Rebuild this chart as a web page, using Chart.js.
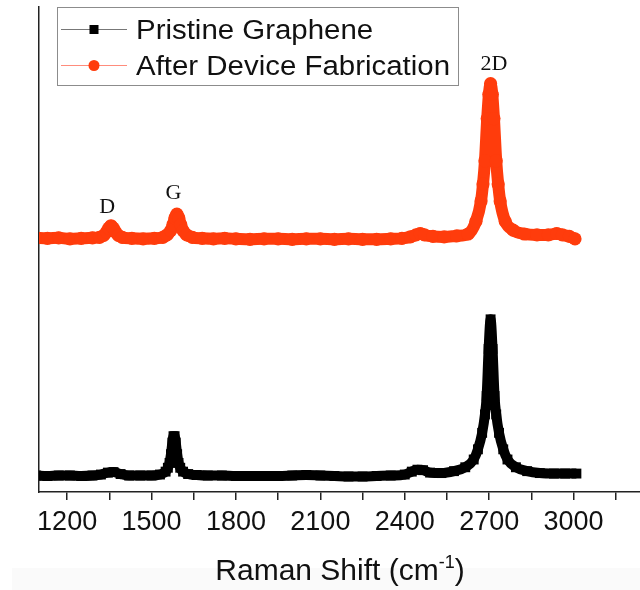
<!DOCTYPE html>
<html>
<head>
<meta charset="utf-8">
<script src="https://cdn.jsdelivr.net/npm/chart.js@4.4.0/dist/chart.umd.min.js"></script>
<style>
  html, body { margin: 0; padding: 0; background: #fff; overflow: hidden; }
  #wrap { position: relative; width: 640px; height: 590px; overflow: hidden; }
  #shade { position: absolute; left: 12px; top: 568px; width: 628px; height: 22px; background: #fafafa; }
  #chart { position: absolute; left: 0; top: 0; }
</style>
</head>
<body>
<div id="wrap">
  <div id="shade"></div>
  <canvas id="chart" width="665" height="590"></canvas>
</div>
<script>
// series names
const seriesNames = ['Pristine Graphene', 'After Device Fabrication'];

// pristine graphene spectrum (Raman shift, offset intensity)
const pristineShift = [1090, 1130, 1170, 1210, 1250, 1290, 1320, 1345, 1365, 1390, 1420, 1460, 1500, 1530, 1550, 1558, 1564, 1569, 1574, 1578, 1582, 1586, 1591, 1596, 1602, 1612, 1630, 1660, 1700, 1750, 1800, 1850, 1900, 1950, 2000, 2050, 2100, 2150, 2200, 2250, 2300, 2350, 2400, 2425, 2445, 2465, 2490, 2530, 2575, 2615, 2645, 2660, 2675, 2685, 2691, 2698, 2705, 2712, 2719, 2725, 2735, 2750, 2765, 2795, 2835, 2880, 2930, 2970, 3010];
const pristineInt = [3.4, 3.3, 3.4, 3.4, 3.3, 3.4, 3.6, 4.0, 4.1, 3.7, 3.4, 3.4, 3.4, 3.6, 4.2, 5.0, 6.0, 7.8, 10.2, 11.5, 11.5, 10.2, 7.8, 6.0, 5.0, 4.2, 3.7, 3.5, 3.4, 3.4, 3.3, 3.3, 3.3, 3.3, 3.4, 3.5, 3.4, 3.3, 3.2, 3.2, 3.3, 3.4, 3.6, 4.2, 4.6, 4.5, 4.0, 3.9, 4.3, 5.1, 6.7, 8.8, 12.2, 16.0, 19.8, 29.5, 35.6, 29.5, 19.8, 16.0, 12.2, 8.8, 6.7, 5.1, 4.3, 3.9, 3.8, 3.8, 3.8];

// after device fabrication spectrum
const fabShift = [1090, 1130, 1170, 1210, 1250, 1290, 1315, 1330, 1340, 1348, 1356, 1364, 1372, 1382, 1396, 1430, 1470, 1510, 1540, 1555, 1568, 1576, 1583, 1590, 1597, 1604, 1612, 1625, 1645, 1680, 1720, 1760, 1800, 1850, 1900, 1950, 2000, 2050, 2100, 2150, 2200, 2250, 2300, 2350, 2390, 2420, 2440, 2455, 2470, 2500, 2540, 2585, 2625, 2653, 2671, 2678, 2685, 2693, 2699, 2705, 2711, 2717, 2725, 2732, 2739, 2757, 2785, 2825, 2870, 2910, 2940, 2960, 2985, 3005];
const fabInt = [52.4, 52.3, 52.4, 52.2, 52.3, 52.4, 52.5, 52.9, 53.6, 54.4, 54.9, 54.4, 53.6, 52.9, 52.5, 52.3, 52.2, 52.3, 52.5, 53.0, 53.9, 55.1, 56.5, 57.3, 56.5, 55.1, 53.9, 53.0, 52.5, 52.3, 52.2, 52.3, 52.2, 52.1, 52.2, 52.2, 52.1, 52.2, 52.2, 52.1, 52.2, 52.1, 52.1, 52.2, 52.3, 52.6, 53.0, 53.3, 53.0, 52.7, 52.6, 52.8, 53.2, 55.8, 60.0, 63.5, 68.3, 77.0, 82.0, 84.2, 82.0, 77.0, 68.3, 63.5, 60.0, 55.8, 54.0, 53.2, 53.0, 53.0, 53.3, 53.0, 52.7, 52.2];

// peak labels
const peakNames = ['D', 'G', '2D'];
const peakShift = [1342, 1578, 2717];
const peakLevel = [58.7, 61.6, 88.2];

// x axis
const xMin = 1100, xMax = 3300, xStep = 150, xLabelStep = 300, xLastLabel = 3000;

const RED = '#ff3c0c';

function toPoints(xs, ys) {
  return xs.map((x, i) => ({ x: x, y: ys[i] }));
}

// legend with a frame, like the original
const frameLegend = {
  id: 'frameLegend',
  afterDraw(chart) {
    const ctx = chart.ctx;
    const ds = chart.data.datasets;
    ctx.save();
    ctx.strokeStyle = '#8c8c8c';
    ctx.lineWidth = 1;
    ctx.strokeRect(57.5, 7.5, 401, 78);

    ctx.strokeStyle = '#777';
    ctx.beginPath(); ctx.moveTo(61, 29.5); ctx.lineTo(127, 29.5); ctx.stroke();
    ctx.fillStyle = '#000';
    ctx.fillRect(89.5, 25, 9, 9);

    ctx.strokeStyle = '#ff8c7c';
    ctx.beginPath(); ctx.moveTo(61, 65.5); ctx.lineTo(127, 65.5); ctx.stroke();
    ctx.fillStyle = RED;
    ctx.beginPath(); ctx.arc(94, 65.5, 5.5, 0, Math.PI * 2); ctx.fill();

    // the original text is a little wider than Arial
    ctx.fillStyle = '#111';
    ctx.font = '27px "Liberation Sans", Arial, sans-serif';
    ctx.textBaseline = 'alphabetic';
    ctx.translate(136, 0);
    ctx.scale(1.09, 1);
    ctx.fillText(ds[0].label, 0, 39);
    ctx.fillText(ds[1].label, 0, 75);
    ctx.restore();
  }
};

// D, G, 2D labels and the axis title with superscript
const extraText = {
  id: 'extraText',
  afterDraw(chart) {
    const ctx = chart.ctx;
    const xs = chart.scales.x, ys = chart.scales.y;
    ctx.save();
    ctx.fillStyle = '#111';
    ctx.font = '22px "Liberation Serif", "Times New Roman", serif';
    ctx.textAlign = 'center';
    ctx.textBaseline = 'middle';
    peakNames.forEach((n, i) => {
      ctx.fillText(n, xs.getPixelForValue(peakShift[i]), ys.getPixelForValue(peakLevel[i]));
    });

    const big = '30px "Liberation Sans", Arial, sans-serif';
    const small = '18px "Liberation Sans", Arial, sans-serif';
    const a = 'Raman Shift (cm', s = '-1', b = ')';
    ctx.font = big; const wa = ctx.measureText(a).width, wb = ctx.measureText(b).width;
    ctx.font = small; const ws = ctx.measureText(s).width;
    let x = 340 - (wa + ws + wb) / 2;
    const base = 580;
    ctx.textAlign = 'left';
    ctx.textBaseline = 'alphabetic';
    ctx.font = big; ctx.fillText(a, x, base); x += wa;
    ctx.font = small; ctx.fillText(s, x, base - 12); x += ws;
    ctx.font = big; ctx.fillText(b, x, base);
    ctx.restore();
  }
};

new Chart(document.getElementById('chart'), {
  type: 'line',
  data: {
    datasets: [{
      label: seriesNames[0],
      data: toPoints(pristineShift, pristineInt),
      borderColor: '#000',
      backgroundColor: '#000',
      borderWidth: 10,
      pointStyle: 'rect',
      pointRadius: 7,
      pointBorderWidth: 0,
      cubicInterpolationMode: 'monotone',
      clip: 0
    }, {
      label: seriesNames[1],
      data: toPoints(fabShift, fabInt),
      borderColor: RED,
      backgroundColor: RED,
      borderWidth: 12,
      borderCapStyle: 'round',
      borderJoinStyle: 'round',
      pointStyle: 'circle',
      pointRadius: 6.6,
      pointBorderWidth: 0,
      cubicInterpolationMode: 'monotone',
      clip: 0
    }]
  },
  options: {
    responsive: false,
    animation: false,
    events: [],
    layout: { padding: { left: 39, top: -4.5, right: 0, bottom: 0 } },
    plugins: { legend: { display: false }, tooltip: { enabled: false } },
    scales: {
      x: {
        type: 'linear',
        min: xMin,
        max: xMax,
        afterFit: s => { s.height = 98; },
        border: { display: true, color: '#222', width: 1.5 },
        grid: { display: true, drawOnChartArea: false, drawTicks: true, tickLength: 8, color: '#222', lineWidth: 1.5 },
        ticks: {
          stepSize: xStep,
          includeBounds: false,
          autoSkip: false,
          maxRotation: 0,
          minRotation: 0,
          padding: 6,
          color: '#111',
          font: { family: '"Liberation Sans", Arial, sans-serif', size: 27 },
          callback: v => (v % xLabelStep === 0 && v <= xLastLabel) ? String(v) : ''
        }
      },
      y: {
        min: 0,
        max: 100,
        afterFit: s => { s.width = 0; },
        border: { display: true, color: '#222', width: 1.5 },
        grid: { display: false },
        ticks: { display: false }
      }
    }
  },
  plugins: [frameLegend, extraText]
});
</script>
</body>
</html>
